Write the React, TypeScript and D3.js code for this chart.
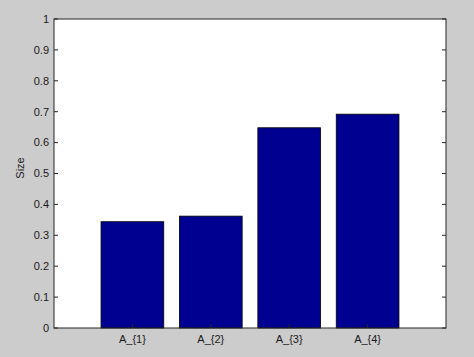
import React from "react";
import * as d3 from "d3";

const categories = ["A_{1}", "A_{2}", "A_{3}", "A_{4}"];
const values = [0.344, 0.362, 0.648, 0.692];
const yTicks = [0, 0.1, 0.2, 0.3, 0.4, 0.5, 0.6, 0.7, 0.8, 0.9, 1];
const yLabel = "Size";

export default function App() {
  const W = 474, H = 357;
  const left = 54, right = 446, top = 19, bottom = 328;
  const x = d3.scaleLinear().domain([0, 5]).range([left, right]);
  const y = d3.scaleLinear().domain([0, 1]).range([bottom, top]);
  const bw = (x(1) - x(0)) * 0.8;
  const font = "'Liberation Sans', Arial, sans-serif";
  return (
    <svg width={W} height={H} style={{ position: "absolute", left: 0, top: 0 }}>
      <rect x={0} y={0} width={W} height={H} fill="#cccccc" />
      <rect x={left} y={top} width={right - left} height={bottom - top} fill="#ffffff" />
      {values.map((v, i) => (
        <rect
          key={i}
          x={x(i + 1) - bw / 2}
          y={y(v)}
          width={bw}
          height={y(0) - y(v)}
          fill="#000090"
          stroke="#000000"
          strokeWidth={0.8}
        />
      ))}
      <rect x={left} y={top} width={right - left} height={bottom - top} fill="none" stroke="#262626" strokeWidth={1} />
      {yTicks.map((t) => (
        <g key={t}>
          <line x1={left} x2={left + 4} y1={y(t)} y2={y(t)} stroke="#262626" />
          <line x1={right} x2={right - 4} y1={y(t)} y2={y(t)} stroke="#262626" />
          <text x={left - 5} y={y(t)} dy="0.35em" textAnchor="end" fontFamily={font} fontSize={11} fill="#1a1a1a">
            {String(t)}
          </text>
        </g>
      ))}
      {categories.map((c, i) => (
        <g key={c}>
          <line x1={x(i + 1)} x2={x(i + 1)} y1={bottom} y2={bottom - 4} stroke="#262626" />
          <text x={x(i + 1)} y={bottom + 15} textAnchor="middle" fontFamily={font} fontSize={11} fill="#1a1a1a">
            {c}
          </text>
        </g>
      ))}
      <text
        transform={`translate(24,168) rotate(-90)`}
        textAnchor="middle"
        fontFamily={font}
        fontSize={11}
        fill="#1a1a1a"
      >
        {yLabel}
      </text>
    </svg>
  );
}
